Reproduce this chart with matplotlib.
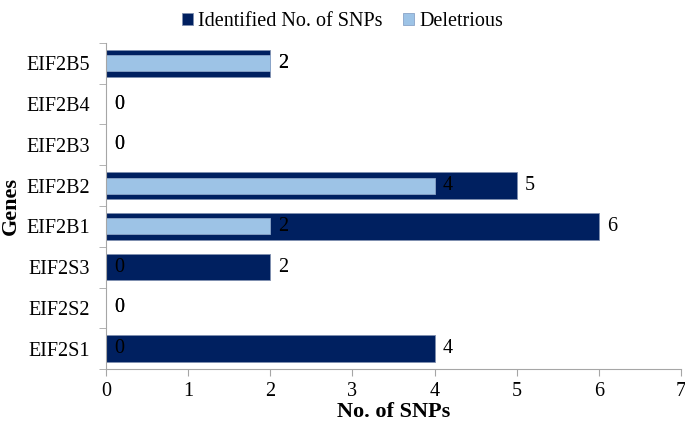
import matplotlib
matplotlib.use('Agg')
import matplotlib.pyplot as plt
import numpy as np

genes = ['EIF2S1', 'EIF2S2', 'EIF2S3', 'EIF2B1', 'EIF2B2', 'EIF2B3', 'EIF2B4', 'EIF2B5']
identified = [4, 0, 2, 6, 5, 0, 0, 2]
deleterious = [0, 0, 0, 2, 4, 0, 0, 2]

navy = '#002060'
light = '#9DC3E6'

plt.rcParams['font.family'] = ['Liberation Serif', 'DejaVu Serif']
plt.rcParams['font.size'] = 14.5

fig = plt.figure(figsize=(6.85, 4.26), dpi=100)
ax = fig.add_axes([106 / 685, 1 - 369 / 426, 575 / 685, 326 / 426])

y = np.arange(len(genes))
b1 = ax.barh(y, identified, height=0.65, color=navy, edgecolor='#7F8FB0', linewidth=0.6,
             label='Identified No. of SNPs')
b2 = ax.barh(y, deleterious, height=0.39, color=light, edgecolor='#8AA4C8', linewidth=0.6,
             label='Deletrious')

# value labels, just right of the bar end
for yi, v in zip(y, identified):
    ax.annotate(str(v), (v, yi), xytext=(6, 0), textcoords='offset points',
                ha='left', va='center', color='black')
for yi, v in zip(y, deleterious):
    ax.annotate(str(v), (v, yi), xytext=(6, 0), textcoords='offset points',
                ha='left', va='center', color='black')

ax.set_xlim(0, 7)
ax.set_ylim(-0.5, len(genes) - 0.5)
ax.set_xticks(range(8))
ax.set_yticks(y)
ax.set_yticklabels(genes)
ax.set_yticks(np.arange(-0.5, len(genes), 1), minor=True)
ax.tick_params(axis='y', which='major', length=0, pad=11.5)
ax.tick_params(axis='y', which='minor', length=5, color='#A6A6A6')
ax.tick_params(axis='x', length=5, color='#A6A6A6', pad=4)

for s in ['top', 'right']:
    ax.spines[s].set_visible(False)
for s in ['left', 'bottom']:
    ax.spines[s].set_color('#A6A6A6')

ax.set_xlabel('No. of SNPs', fontweight='bold', fontsize=16, labelpad=1)
ax.set_ylabel('Genes', fontweight='bold', fontsize=16, labelpad=4)

fig.legend(handles=[b1, b2], loc='upper center', bbox_to_anchor=(0.5, 1.015), ncol=2,
           frameon=False, handlelength=0.55, handleheight=0.55, handletextpad=0.25,
           columnspacing=1.0, fontsize=14.5)

fig.savefig('out.png', dpi=100)
